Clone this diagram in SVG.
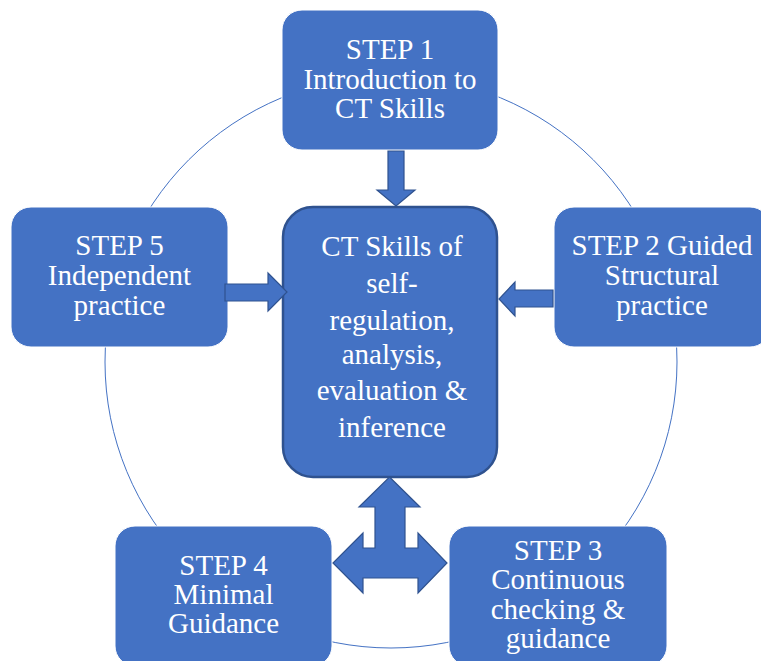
<svg xmlns="http://www.w3.org/2000/svg" width="761" height="661" viewBox="0 0 761 661">
<style>
.box{fill:#4472C4;stroke:#ffffff;stroke-width:1}
.center{fill:#4472C4;stroke:#2F528F;stroke-width:2.5}
.arrow{fill:#4472C4;stroke:#2F528F;stroke-width:1.2;stroke-linejoin:miter}
.ring{fill:none;stroke:#4472C4;stroke-width:1}
text{font-family:"Liberation Serif","Times New Roman",serif;font-size:29px;fill:#ffffff;text-anchor:middle}
</style>
<rect width="761" height="661" fill="#ffffff"/>
<g id="ring">
<circle class="ring" cx="391" cy="362" r="286"/>
</g>
<g id="step1">
<rect class="box" x="282" y="10" width="216" height="140" rx="20"/>
<text x="390" y="59">STEP 1</text>
<text x="390" y="88.5">Introduction to</text>
<text x="390" y="118">CT Skills</text>
</g>
<g id="step2">
<rect class="box" x="554" y="207" width="216" height="140" rx="20"/>
<text x="662" y="255">STEP 2 Guided</text>
<text x="662" y="285">Structural</text>
<text x="662" y="315">practice</text>
</g>
<g id="step3">
<rect class="box" x="449" y="526" width="218" height="140" rx="20"/>
<text x="558" y="560">STEP 3</text>
<text x="558" y="589">Continuous</text>
<text x="558" y="619">checking &amp;</text>
<text x="558" y="648">guidance</text>
</g>
<g id="step4">
<rect class="box" x="115" y="526" width="217" height="140" rx="20"/>
<text x="223.5" y="575">STEP 4</text>
<text x="223.5" y="604">Minimal</text>
<text x="223.5" y="633">Guidance</text>
</g>
<g id="step5">
<rect class="box" x="11" y="207" width="217" height="140" rx="20"/>
<text x="119.5" y="255">STEP 5</text>
<text x="119.5" y="285">Independent</text>
<text x="119.5" y="315">practice</text>
</g>
<g id="center">
<rect class="center" x="283" y="207" width="214" height="270" rx="30"/>
<text x="392" y="256">CT Skills of</text>
<text x="392" y="293">self-</text>
<text x="392" y="329.5">regulation,</text>
<text x="392" y="364">analysis,</text>
<text x="392" y="400">evaluation &amp;</text>
<text x="392" y="437">inference</text>
</g>
<g id="connectors">
<polygon class="arrow" points="388,151 404,151 404,190 415,190 396,206 377,190 388,190"/>
<polygon class="arrow" points="553,290 553,307 515,307 515,316 499,299 515,282 515,290"/>
<polygon class="arrow" points="225,284 268,284 268,273 287,292 268,311 268,301 225,301"/>
<polygon class="arrow" points="389.5,477 420,507 405,507 405,548 418,548 418,533 447,563 418,593 418,578 363,578 363,593 333,563 363,533 363,548 375,548 375,507 359,507"/>
</g>
</svg>
